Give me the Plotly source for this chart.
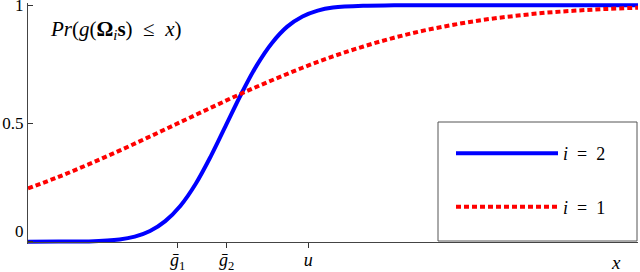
import plotly.graph_objects as go

# ---- data ----
x_blue = [0, 0.5, 1.0, 1.5, 1.75, 2.0, 2.25, 2.5, 2.75, 3.0, 3.25, 3.5, 3.75,
          4.0, 4.25, 4.5, 4.75, 5.0, 5.5, 6.0, 7.0, 8.0, 9.0, 10.0]
y_blue = [0.0, 0.0001, 0.001, 0.009, 0.021, 0.045, 0.087, 0.152, 0.245, 0.363,
          0.495, 0.627, 0.746, 0.841, 0.910, 0.953, 0.978, 0.991, 0.9988, 1.0,
          1.0, 1.0, 1.0, 1.0]

x_red = [0, 0.5, 1.0, 1.5, 2.0, 2.5, 3.0, 3.5, 4.0, 4.5, 5.0, 5.5, 6.0, 6.5,
         7.0, 7.5, 8.0, 8.5, 9.0, 9.5, 10.0]
y_red = [0.225, 0.274, 0.328, 0.385, 0.445, 0.506, 0.567, 0.627, 0.683, 0.736,
         0.784, 0.826, 0.863, 0.894, 0.919, 0.940, 0.956, 0.969, 0.978, 0.985,
         0.990]

name_blue = "<i>i</i>\u2002=\u20022"
name_red = "<i>i</i>\u2002=\u20021"

x_tickvals = [2.454, 3.257, 4.595]
x_ticktext = ["<i>ḡ</i><sub>1</sub>", "<i>ḡ</i><sub>2</sub>", "<i>u</i>"]
y_tickvals = [0, 0.5, 1]
y_ticktext = ["0<br> ", "0.5", "1"]
x_label_pos = 9.64

FONT = "Liberation Serif, DejaVu Serif, Times New Roman, serif"
x_range = [0, 10]
y_range = [-0.01, 1.01]
axis_pos = (0 - y_range[0]) / (y_range[1] - y_range[0])

fig = go.Figure()
fig.add_trace(go.Scatter(x=x_blue, y=y_blue, mode="lines", name=name_blue,
                         line=dict(color="#0000ff", width=4, shape="spline"),
                         legendgroup="a"))
fig.add_trace(go.Scatter(x=x_red, y=y_red, mode="lines", name=name_red,
                         line=dict(color="#ff0000", width=4, dash="5px,3px", shape="spline"),
                         legendgroup="b"))

fig.update_layout(
    width=640, height=272,
    margin=dict(l=28, r=2, t=3, b=28, autoexpand=False),
    paper_bgcolor="white", plot_bgcolor="white",
    font=dict(family=FONT, size=17, color="black"),
    showlegend=True,
    legend=dict(x=(451 - 28) / 610, y=0.506, xanchor="left", yanchor="top",
                borderwidth=0, bgcolor="rgba(0,0,0,0)",
                font=dict(family=FONT, size=18), itemwidth=102,
                tracegroupgap=27,
                title=dict(text=" ", font=dict(size=10))),
    shapes=[dict(type="rect", xref="paper", yref="paper",
                 x0=(438 - 28) / 610, x1=(637 - 28) / 610,
                 y0=(244 - 241) / 241, y1=(244 - 122) / 241,
                 line=dict(color="#555555", width=1), fillcolor="white",
                 layer="above")],
    xaxis=dict(range=x_range, anchor="free", position=axis_pos,
               tickvals=x_tickvals, ticktext=x_ticktext,
               ticks="outside", ticklen=5, tickcolor="#333", tickwidth=1,
               ticklabelstandoff=-3, ticklabeloverflow="allow",
               showline=True, linecolor="#444", linewidth=1,
               showgrid=False, zeroline=False,
               tickfont=dict(family=FONT, size=18)),
    xaxis2=dict(range=x_range, overlaying="x", anchor="free", position=axis_pos,
                tickvals=x_tickvals, ticks="inside", ticklen=4, tickcolor="#333",
                showticklabels=False, showline=False, showgrid=False, zeroline=False),
    yaxis=dict(range=y_range, tickvals=y_tickvals, ticktext=y_ticktext,
               ticks="inside", ticklen=5, tickcolor="#333",
               ticklabeloverflow="allow",
               showline=True, linecolor="#444", linewidth=1,
               showgrid=False, zeroline=False,
               tickfont=dict(family=FONT, size=17)),
    annotations=[
        dict(text="<i>Pr</i>(<i>g</i>(<b>Ω</b><sub><i>i</i></sub><b>s</b>)\u2002≤\u2002<i>x</i>)",
             xref="paper", yref="paper", x=(48 - 28) / 610, y=(244 - 30) / 241,
             xanchor="left", yanchor="middle", showarrow=False,
             font=dict(family=FONT, size=21)),
        dict(text="<i>x</i>", xref="x", yref="y", x=x_label_pos, y=0,
             xanchor="center", yanchor="top", yshift=-8, showarrow=False,
             font=dict(family=FONT, size=19)),
    ],
)

fig.write_html("out.html", config={"displayModeBar": False},
               post_script="document.body.style.margin='0';document.body.style.overflow='hidden';")
